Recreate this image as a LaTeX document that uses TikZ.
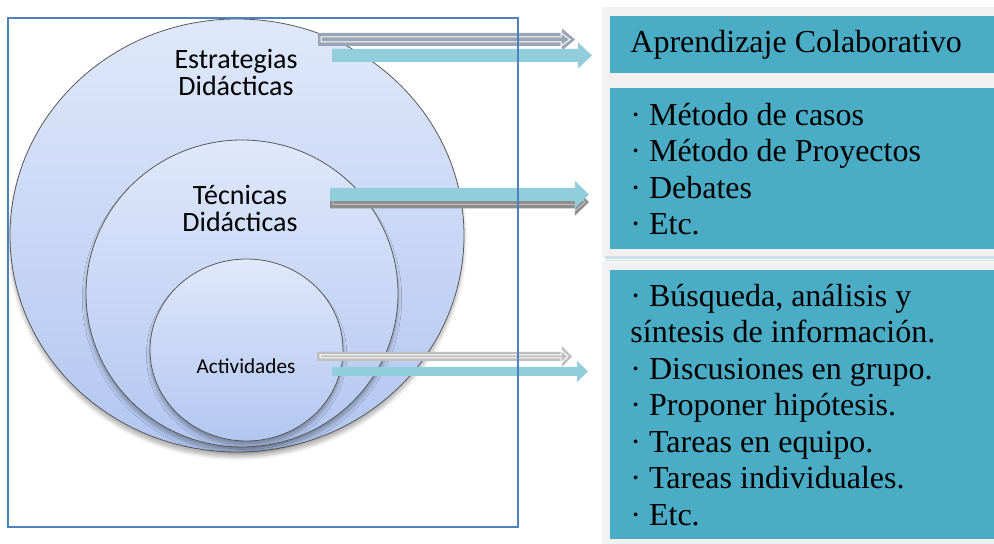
\documentclass[tikz,border=0pt]{standalone}
\usepackage{fontspec}
\setmainfont{Liberation Serif}
\newfontfamily\labelfont{Carlito}
\usetikzlibrary{positioning,calc,shapes.geometric,shadows.blur}

\definecolor{boxteal}{HTML}{4BACC6}
\definecolor{arrteal}{HTML}{92CDDC}
\definecolor{panelgrey}{HTML}{F1F1F1}
\definecolor{framblue}{HTML}{4F81BD}
\definecolor{ringtop}{HTML}{DFE8FB}
\definecolor{ringbot}{HTML}{B2C6F0}
\definecolor{slate}{HTML}{99A4B4}

% block arrow: style, tail, tip, shaft half, head half, head length
\newcommand{\blockarrow}[6]{%
  \path[#1] ($(#2)+(0,#4)$) -- ($(#3)+(-#6,#4)$) -- ($(#3)+(-#6,#5)$) -- (#3)
    -- ($(#3)+(-#6,-#5)$) -- ($(#3)+(-#6,-#4)$) -- ($(#2)+(0,-#4)$) -- cycle;}

\begin{document}
\begin{tikzpicture}[
        x=0.5pt, y=-0.5pt,
        ring/.style={ellipse, draw=black!65, line width=0.4pt, inner sep=0,
            top color=ringtop, bottom color=ringbot,
            blur shadow={shadow xshift=0pt, shadow yshift=-2.5pt, shadow blur steps=6, shadow opacity=30}},
        ringtext/.style={font=\labelfont\fontsize{14}{13.5}\selectfont, align=center, inner sep=0},
        tbox/.style={fill=boxteal, anchor=north west, inner xsep=10pt, inner ysep=0,
            text width=172pt, align=flush left, font=\fontsize{16}{18.25}\selectfont,
            execute at begin node={\spaceskip=0pt\xspaceskip=0pt\relax}},
        panel/.style={fill=panelgrey, draw=none}
    ]
    \useasboundingbox (0,0) rectangle (994,544);
    % right side panels
    \fill[panel] (602,7) rectangle (994,257);
    \fill[panel] (602,262) rectangle (994,544);
    \fill[black!10!gray!60!cyan!30] (605,256.5) rectangle (994,261.5);
    \draw[white, line width=0.4pt] (605,259) -- (994,259);
    \node[tbox, minimum height=28.5pt] (colab) at (610,16) {Aprendizaje Colaborativo};
    \node[tbox, minimum height=80.5pt] (tecn) at (610,88)
        {· Método de casos\\· Método de Proyectos\\· Debates\\· Etc.};
    \node[tbox, minimum height=134.5pt] (activ) at (610,270)
        {· Búsqueda, análisis y\\síntesis de información.\\· Discusiones en grupo.\\· Proponer hipótesis.\\· Tareas en equipo.\\· Tareas individuales.\\· Etc.};
    % nested circles
    \node[ring, minimum width=227pt, minimum height=216.5pt] (estr) at (237,235.5) {};
    \node[ring, minimum width=156pt, minimum height=153.5pt] (tec) at (242,293.5) {};
    \node[ring, minimum width=96.5pt, minimum height=91pt] (act) at (246.5,350) {};
    \node[ringtext] (estrlab) at (236,72) {Estrategias\\Didácticas};
    \node[ringtext] (teclab) at (240,208) {Técnicas\\Didácticas};
    \node[ringtext, font=\labelfont\fontsize{10.6}{12}\selectfont] (actlab) at (246,366) {Actividades};
    % arrows
    \coordinate (g1) at (318,39.5);  \coordinate (g1tip) at (575,39.5);
    \coordinate (g1i) at (321,39.5); \coordinate (g1itip) at (570,39.5);
    \coordinate (t1) at (332,55.5);  \coordinate (t1tip) at (592,55.5);
    \coordinate (g2) at (330,202);   \coordinate (g2tip) at (589,202);
    \coordinate (g2i) at (333,202);  \coordinate (g2itip) at (585,202);
    \coordinate (t2) at (330,194.5); \coordinate (t2tip) at (589,194.5);
    \coordinate (g3) at (317,356.5); \coordinate (g3tip) at (572,356.5);
    \coordinate (g3i) at (320,356.5); \coordinate (g3itip) at (568,356.5);
    \coordinate (t3) at (332,371.5); \coordinate (t3tip) at (588,371.5);
    \blockarrow{fill=slate}{g1}{g1tip}{6.5}{11}{13}
    \blockarrow{draw=white, line width=0.5pt}{g1i}{g1itip}{2.5}{6.5}{9}
    \blockarrow{fill=arrteal}{t1}{t1tip}{6.5}{13}{14}
    \blockarrow{fill=black!45}{g2}{g2tip}{6.5}{13.5}{14}
    \blockarrow{draw=black!25, line width=0.5pt}{g2i}{g2itip}{2.5}{9}{10}
    \blockarrow{fill=arrteal}{t2}{t2tip}{6.5}{13.5}{14}
    \blockarrow{fill=black!25}{g3}{g3tip}{4.5}{10.5}{10}
    \blockarrow{draw=white, line width=0.5pt}{g3i}{g3itip}{1.5}{6.5}{7}
    \blockarrow{fill=arrteal}{t3}{t3tip}{4.5}{10.5}{11}
    % frame
    \draw[framblue, line width=0.75pt] (8,18) rectangle (518,527);
\end{tikzpicture}
\end{document}
